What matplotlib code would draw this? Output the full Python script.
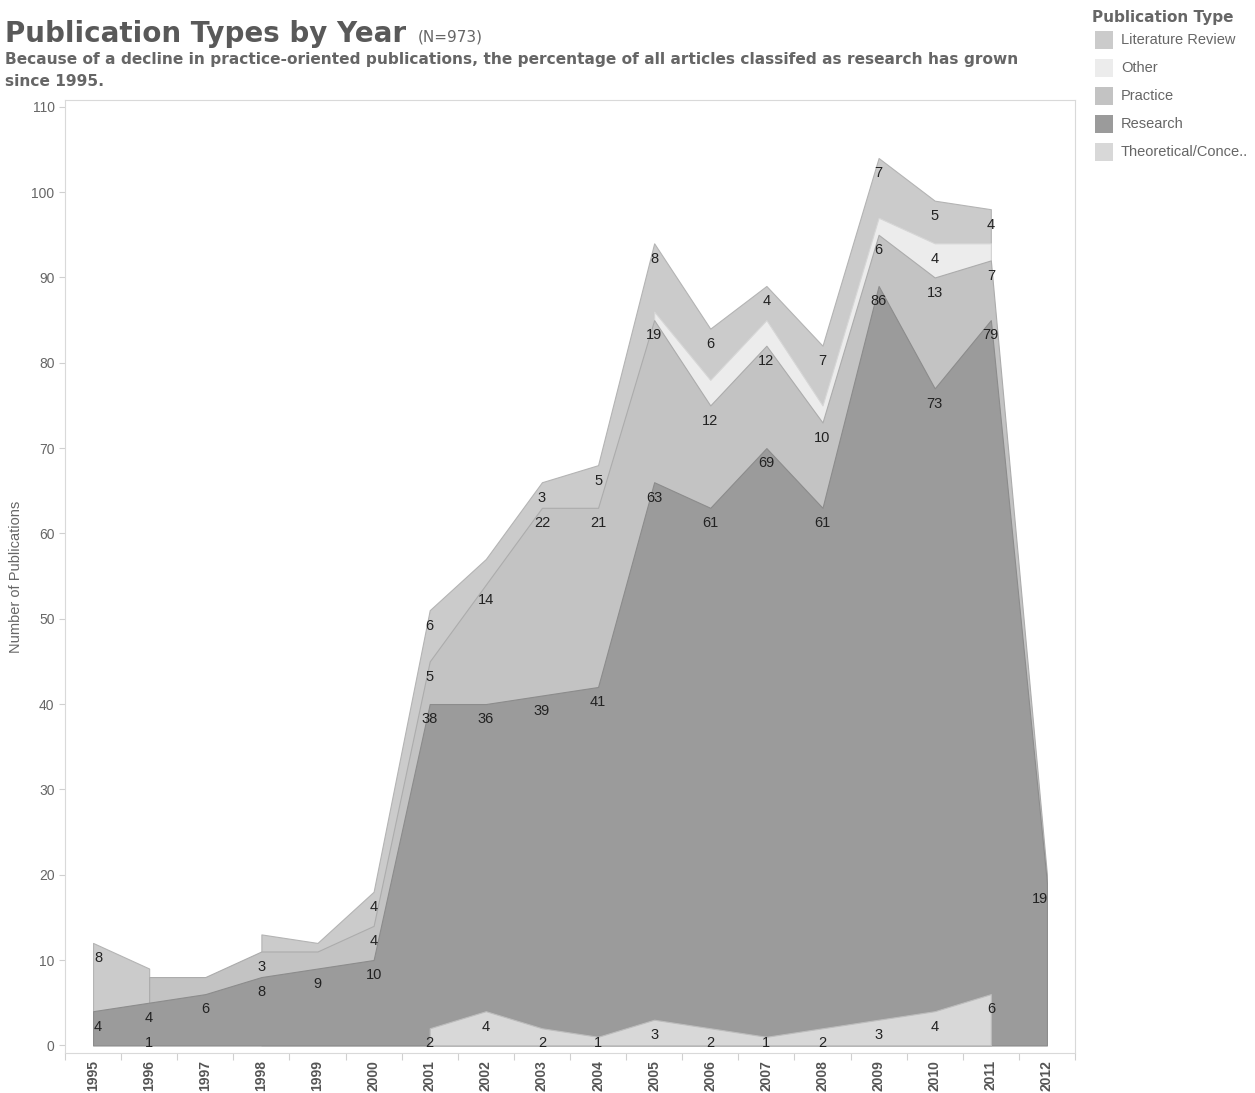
import numpy as np
import matplotlib.pyplot as plt
from matplotlib.patches import Rectangle

nan = np.nan

# ==============================
# DATA
# ==============================
years = list(range(1995, 2013))

# stacking order, bottom -> top
theoretical = [nan, 1, nan, nan, nan, nan, 2, 4, 2, 1, 3, 2, 1, 2, 3, 4, 6, nan]
research = [4, 4, 6, 8, 9, 10, 38, 36, 39, 41, 63, 61, 69, 61, 86, 73, 79, 19]
practice = [nan, 3, 2, 3, 2, 4, 5, 14, 22, 21, 19, 12, 12, 10, 6, 13, 7, 1]
other = [nan, nan, nan, nan, nan, nan, nan, nan, nan, nan, 1, 3, 3, 2, 2, 4, 2, nan]
lit_review = [8, 1, nan, 2, 1, 4, 6, 3, 3, 5, 8, 6, 4, 7, 7, 5, 4, nan]

layer_names = ["Theoretical/Conce..", "Research", "Practice", "Other", "Literature Review"]
layer_values = [theoretical, research, practice, other, lit_review]
layer_colors = ["#d8d8d8", "#9b9b9b", "#c3c3c3", "#ececec", "#cbcbcb"]
edge_colors = ["#bdbdbd", "#8c8c8c", "#acacac", "#d6d6d6", "#b4b4b4"]

# labels Tableau dropped because they collided
hidden = {("Practice", 1996), ("Literature Review", 1996), ("Practice", 1997),
          ("Literature Review", 1998), ("Practice", 1999), ("Literature Review", 1999),
          ("Literature Review", 2002), ("Other", 2005), ("Other", 2006), ("Other", 2007),
          ("Other", 2008), ("Other", 2009), ("Other", 2011), ("Practice", 2012)}

legend_order = ["Literature Review", "Other", "Practice", "Research", "Theoretical/Conce.."]

# ==============================
# FIGURE
# ==============================
W, H = 1255, 1093
fig = plt.figure(figsize=(W / 100, H / 100), dpi=100)
ax = fig.add_axes([65 / W, 1 - 1053 / H, 1010 / W, 953 / H])

x = np.array(years, dtype=float)
vals = [np.array(v, dtype=float) for v in layer_values]
tops = np.cumsum([np.nan_to_num(v) for v in vals], axis=0)


def runs(mask):
    out, start = [], None
    for i, m in enumerate(mask):
        if m and start is None:
            start = i
        if not m and start is not None:
            out.append((start, i))
            start = None
    if start is not None:
        out.append((start, len(mask)))
    return out


# draw top layer first, each filled from zero, so lower layers paint over it
for k in range(len(vals) - 1, -1, -1):
    for a, b in runs(~np.isnan(vals[k])):
        if b - a < 2:
            continue
        ax.fill_between(x[a:b], 0, tops[k][a:b], color=layer_colors[k],
                        edgecolor=edge_colors[k], linewidth=0.8, zorder=2)

# value labels
for k, name in enumerate(layer_names):
    for i, yr in enumerate(years):
        v = vals[k][i]
        if np.isnan(v) or (name, yr) in hidden:
            continue
        ly = max(tops[k][i] - 1.8, 0.3)
        dx = 0.0
        if i == 0:
            dx = 0.09
        elif i == len(years) - 1:
            dx = -0.13
        ax.text(yr + dx, ly, f"{int(v)}", ha="center", va="center",
                fontsize=10.5, color="#222222", family="Liberation Sans", zorder=5)

ax.set_xlim(1994.5, 2012.5)
ax.set_ylim(-0.9, 110.8)
ax.set_yticks(range(0, 111, 10))
ax.set_xticks(years)
ax.set_xticks(np.arange(1994.5, 2013, 1), minor=True)
ax.set_xticklabels([str(y) for y in years], rotation=90, fontweight="bold",
                   fontsize=10, color="#555555", family="Liberation Sans")
for lab in ax.get_yticklabels():
    lab.set_family("Liberation Sans")
ax.tick_params(axis="y", labelsize=10, colors="#666666", length=4, color="#d0d0d0", width=0.8)
ax.tick_params(axis="x", which="major", length=0, pad=5)
ax.tick_params(axis="x", which="minor", length=5, color="#d0d0d0", width=0.8)
for s in ax.spines.values():
    s.set_color("#d9d9d9")
    s.set_linewidth(0.8)
ax.set_ylabel("Number of Publications", fontsize=10.5, color="#666666",
              family="Liberation Sans", labelpad=6)

# ==============================
# TITLES
# ==============================
t = fig.text(5 / W, 1 - 42 / H, "Publication Types by Year", fontsize=20, fontweight="bold",
             color="#595959", ha="left", va="baseline")
fig.canvas.draw()
bb = t.get_window_extent()
fig.text((bb.x1 + 12) / W, 1 - 42 / H, "(N=973)", fontsize=11, color="#666666",
         ha="left", va="baseline")
fig.text(5 / W, 1 - 64 / H, "Because of a decline in practice-oriented publications, the percentage "
         "of all articles classifed as research has grown", fontsize=11.1, fontweight="bold",
         color="#666666", ha="left", va="baseline")
fig.text(5 / W, 1 - 86 / H, "since 1995.", fontsize=11.1, fontweight="bold",
         color="#666666", ha="left", va="baseline")

# ==============================
# LEGEND
# ==============================
fig.text(1092 / W, 1 - 22 / H, "Publication Type", fontsize=11, fontweight="bold",
         color="#666666", ha="left", va="baseline")
for j, name in enumerate(legend_order):
    k = layer_names.index(name)
    yc = 40 + 28 * j
    fig.add_artist(Rectangle((1095 / W, 1 - (yc + 9) / H), 18 / W, 18 / H,
                             transform=fig.transFigure, facecolor=layer_colors[k],
                             edgecolor="none"))
    fig.text(1121 / W, 1 - yc / H, name, fontsize=10.5, color="#666666",
             family="Liberation Sans", ha="left", va="center")

fig.savefig("out.png", dpi=100)
